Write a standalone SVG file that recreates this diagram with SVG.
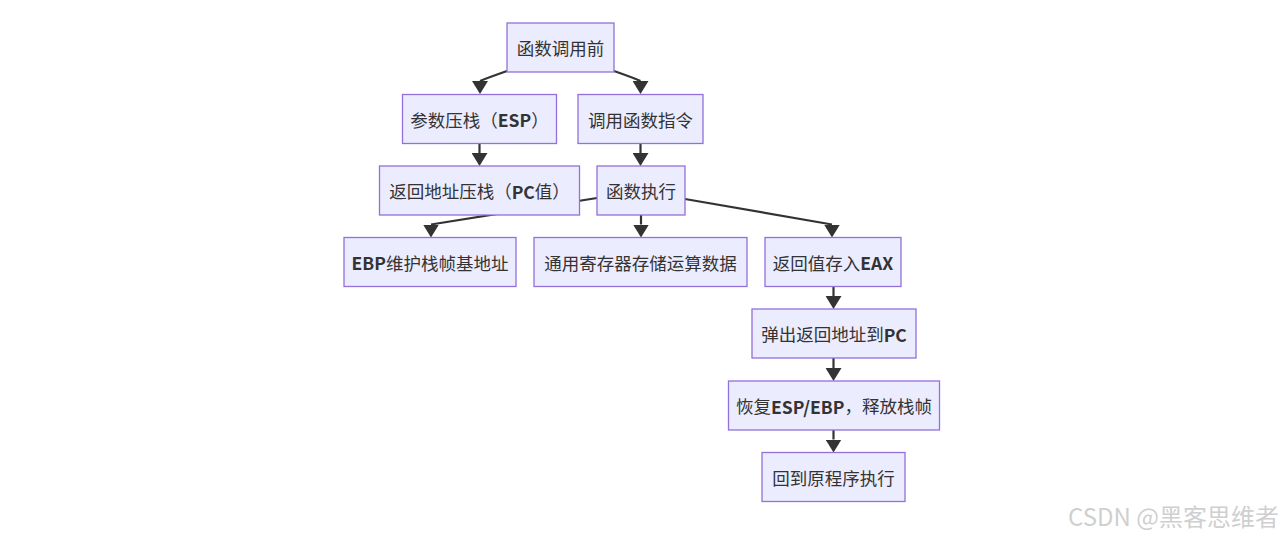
<svg xmlns="http://www.w3.org/2000/svg" width="1284" height="538" viewBox="0 0 1284 538">
<defs>
<style>
.node rect{fill:#ECECFF;stroke:#9370DB;stroke-width:1.3}
.node text{font-family:"Noto Sans CJK SC","Noto Sans",sans-serif;font-size:17.5px;fill:#333;text-anchor:middle;dominant-baseline:central}
.b{font-weight:bold}
.edge{fill:none;stroke:#333;stroke-width:2.2;marker-end:url(#arr)}
.wm{font-family:"Noto Sans CJK SC","Noto Sans",sans-serif;font-size:24px;fill:#cfcfcf;text-anchor:end}
</style>
<marker id="arr" viewBox="0 0 13 16" markerWidth="13" markerHeight="16" refX="0" refY="8" orient="90" markerUnits="userSpaceOnUse">
<path d="M0,0 L13,8 L0,16 z" fill="#333"/>
</marker>
</defs>
<rect width="1284" height="538" fill="#fff"/>
<g id="connectors">
<path class="edge" d="M507,71 Q487,78 480,81"/>
<path class="edge" d="M614,71 Q634,78 640.5,81"/>
<path class="edge" d="M479.5,144 L479.5,153"/>
<path class="edge" d="M640.5,144 L640.5,153"/>
<path class="edge" d="M597,198 L431,224.5"/>
<path class="edge" d="M641,215 L641,224.5"/>
<path class="edge" d="M685,199 L832,224.5"/>
<path class="edge" d="M833.5,287 L833.5,296"/>
<path class="edge" d="M833.5,358 L833.5,368"/>
<path class="edge" d="M833.5,430 L833.5,439.5"/>
</g>
<g id="n1" class="node"><rect x="507" y="23" width="107" height="49"/><text x="560.5" y="47.5">函数调用前</text></g>
<g id="n2" class="node"><rect x="402.5" y="94.5" width="154" height="49"/><text x="479.5" y="119">参数压栈（<tspan class="b">ESP</tspan>）</text></g>
<g id="n3" class="node"><rect x="578" y="94.5" width="125" height="49"/><text x="640.5" y="119">调用函数指令</text></g>
<g id="n4" class="node"><rect x="379.5" y="166" width="200" height="49"/><text x="479.5" y="190.5">返回地址压栈（<tspan class="b">PC</tspan>值）</text></g>
<g id="n5" class="node"><rect x="597" y="166" width="88" height="49"/><text x="641" y="190.5">函数执行</text></g>
<g id="n6" class="node"><rect x="344" y="237.5" width="172" height="49"/><text x="430" y="262"><tspan class="b">EBP</tspan>维护栈帧基地址</text></g>
<g id="n7" class="node"><rect x="534" y="237.5" width="213" height="49"/><text x="640.5" y="262">通用寄存器存储运算数据</text></g>
<g id="n8" class="node"><rect x="765" y="237.5" width="136" height="49"/><text x="833" y="262">返回值存入<tspan class="b">EAX</tspan></text></g>
<g id="n9" class="node"><rect x="752" y="309" width="164" height="49"/><text x="834" y="333.5">弹出返回地址到<tspan class="b">PC</tspan></text></g>
<g id="n10" class="node"><rect x="728.5" y="381" width="211" height="49"/><text x="834" y="405.5">恢复<tspan class="b">ESP/EBP</tspan>，释放栈帧</text></g>
<g id="n11" class="node"><rect x="762" y="452.5" width="143" height="49"/><text x="833.5" y="477">回到原程序执行</text></g>
<text class="wm" x="1279" y="526">CSDN @黑客思维者</text>
</svg>
